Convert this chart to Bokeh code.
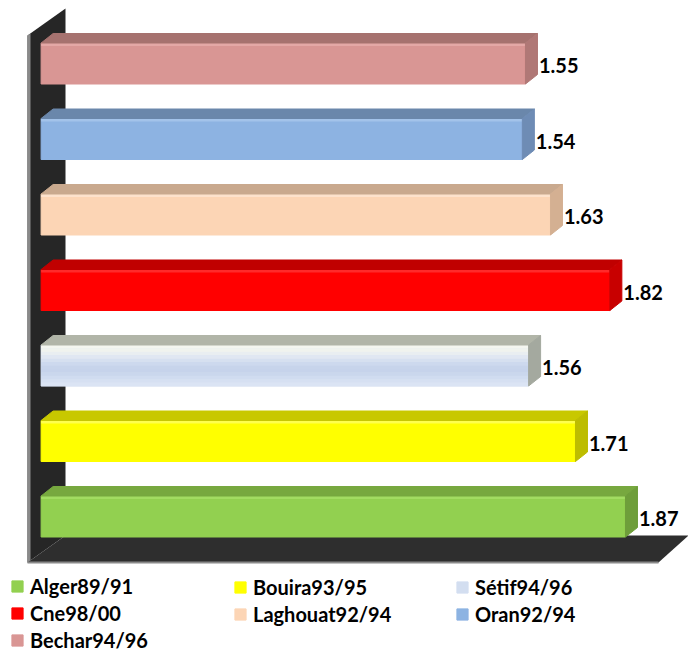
from bokeh.plotting import figure
from bokeh.models import Range1d, Legend, LegendItem, ColumnDataSource
from bokeh.core.properties import value
from bokeh.embed import file_html
from bokeh.resources import INLINE

# ---- data (bottom bar first) ----
regions = ["Alger89/91", "Bouira93/95", "Sétif94/96", "Cne98/00",
           "Laghouat92/94", "Oran92/94", "Bechar94/96"]
ratios = [1.87, 1.71, 1.56, 1.82, 1.63, 1.54, 1.55]

# ---- styling per bar: front face, top face, right end ----
front_colors = ["#92D050", "#FFFF00", "#D3DEF0", "#FF0000", "#FCD5B5", "#8DB3E2", "#D99694"]
top_colors = ["#77A83F", "#C8C800", "#B1B5A8", "#C00000", "#C9A98E", "#6A87AB", "#A6726F"]
side_colors = ["#6E9E3A", "#BDBD00", "#A4A99F", "#C80000", "#D4B092", "#6E8CB5", "#B07876"]
shine_colors = ["#A2DC62", "#FFFF4D", "#F3F5EE", "#FF2A2A", "#FDE2CC", "#A3C3EA", "#E4A8A6"]

W, H = 688, 654
X0_PX, PX_PER_UNIT = 40.6, 312.5      # value 0 sits at x = 40.6 px
Y0_PX, PX_PER_ROW = 516.0, 75.5       # first bar centred at y = 516 px


def sx(px):
    return (px - X0_PX) / PX_PER_UNIT


def sy(py):
    return (Y0_PX - py) / PX_PER_ROW


DX = 12 / PX_PER_UNIT       # depth of the bars, horizontal
DY = 9.5 / PX_PER_ROW       # depth of the bars, vertical
HALF = 20.5 / PX_PER_ROW    # half height of the front face

p = figure(width=W, height=H, output_backend="svg", toolbar_location=None,
           x_range=Range1d(sx(0), sx(W)), y_range=Range1d(sy(H), sy(0)),
           min_border=0, outline_line_color=None)
p.axis.visible = False
p.grid.visible = False
p.background_fill_color = "white"
p.border_fill_color = "white"

# ---- back wall and floor ----
p.patch([sx(27), sx(27), sx(65), sx(65)], [sy(562), sy(35), sy(8), sy(535)],
        fill_color="#262626", line_color=None)
p.patch([sx(27), sx(27), sx(30), sx(30)], [sy(562), sy(35), sy(33), sy(562)],
        fill_color="#8a8a8a", line_color=None)
p.patch([sx(27), sx(658), sx(688), sx(65)], [sy(562), sy(562), sy(535), sy(535)],
        fill_color="#2e2e2e", line_color=None)
p.line([sx(27), sx(658)], [sy(562), sy(562)], line_color="#8a8a8a", line_width=2)

# ---- bars ----
idx = list(range(len(regions)))
bottoms = [i - HALF for i in idx]
tops = [i + HALF for i in idx]

front = ColumnDataSource(dict(left=[0] * len(idx), right=ratios, bottom=bottoms, top=tops,
                              color=front_colors, name=regions))
bars = p.quad(left="left", right="right", bottom="bottom", top="top", source=front,
              fill_color="color", line_color="color")

# highlight along the upper edge of each front face
p.quad(left=[0] * len(idx), right=ratios, top=tops,
       bottom=[t - 3 / PX_PER_ROW for t in tops],
       fill_color=shine_colors, line_color=None)

# soft vertical gradient on the pale bar
k = regions.index("Sétif94/96")
bands = ["#F4F6F0", "#F0F3EE", "#E9EEF1", "#E0E7F2", "#D6E0F0", "#CDD9EE",
         "#C7D4EB", "#C6D3EB", "#CAD7ED", "#D0DCF0", "#D6E0F2", "#DBE4F4"]
step = 2 * HALF / len(bands)
for j, c in enumerate(bands):
    p.quad(left=0, right=ratios[k], top=tops[k] - j * step,
           bottom=tops[k] - (j + 1) * step - 0.004,
           fill_color=c, line_color=None)

top_xs = [[0, v, v + DX, DX] for v in ratios]
top_ys = [[t, t, t + DY, t + DY] for t in tops]
p.patches(top_xs, top_ys, fill_color=top_colors, line_color=top_colors)

side_xs = [[v, v + DX, v + DX, v] for v in ratios]
side_ys = [[b, b + DY, t + DY, t] for b, t in zip(bottoms, tops)]
p.patches(side_xs, side_ys, fill_color=side_colors, line_color=side_colors)

# ---- value labels ----
p.text(x=[v + DX + 1.5 / PX_PER_UNIT for v in ratios], y=[i - 2 / PX_PER_ROW for i in idx],
       text=[f"{v:.2f}" for v in ratios], text_font=value("Lato"), text_font_style="bold",
       text_font_size="20px", text_color="black", text_baseline="middle", text_align="left")

# ---- legend: three columns laid out row by row ----
columns = [[0, 3, 6], [1, 4], [2, 5]]
col_x = [10, 233, 455]
ITEM_H, GAP = 23, 3
for cx, members in zip(col_x, columns):
    rows = len(members)
    leg_h = rows * ITEM_H + (rows - 1) * GAP
    leg = Legend(items=[LegendItem(label=regions[m], renderers=[bars], index=m) for m in members],
                 location=(cx, H - 576.5 - leg_h), orientation="vertical",
                 glyph_width=14, glyph_height=14, label_height=21, spacing=GAP,
                 label_standoff=6, padding=0, margin=0, border_line_color=None,
                 background_fill_alpha=0, label_text_font="Lato",
                 label_text_font_style="bold", label_text_font_size="20px",
                 label_text_color="black")
    p.add_layout(leg)

open("out.html", "w").write(file_html(p, INLINE))
